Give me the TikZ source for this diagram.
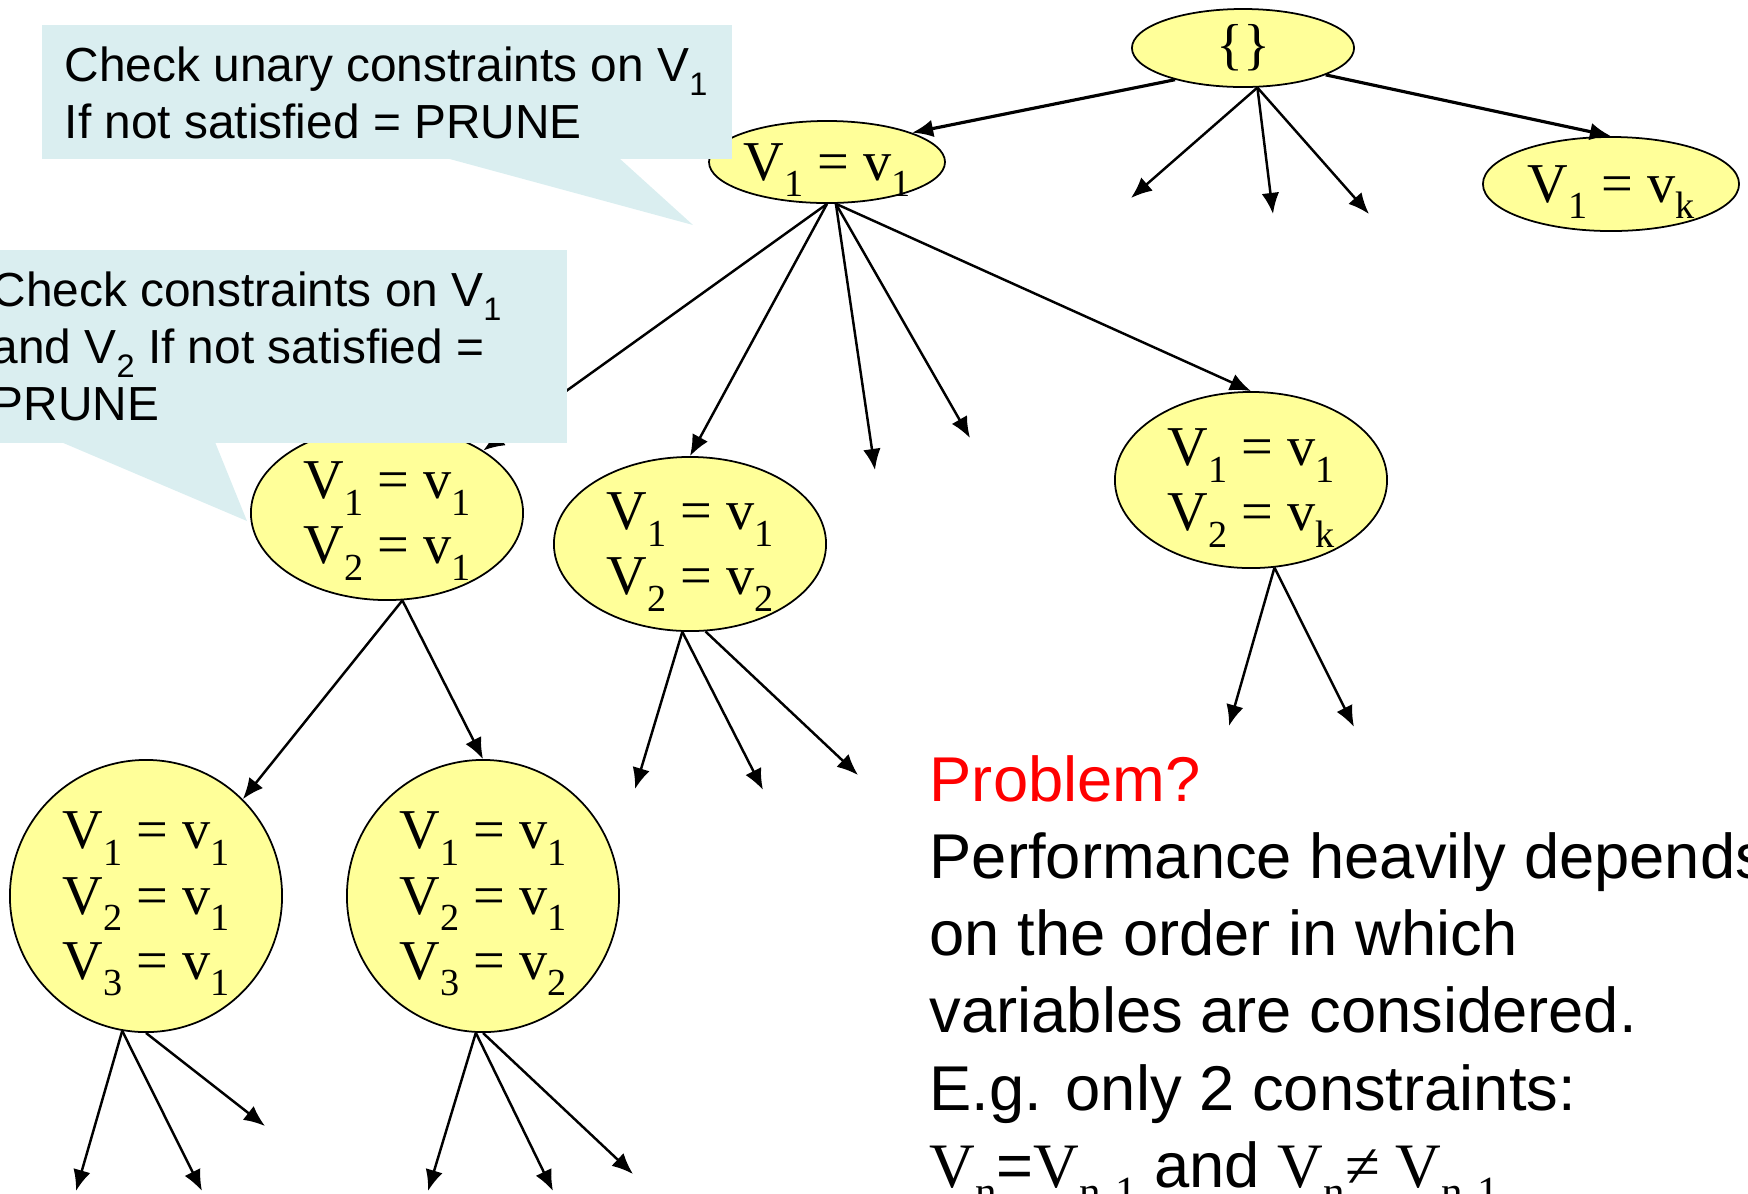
\documentclass[tikz,border=0pt]{standalone}
\usepackage{fontspec}
\setmainfont{Liberation Serif}
\setsansfont{Liberation Sans}
\usetikzlibrary{shapes.geometric,arrows.meta}
\definecolor{nodeyellow}{RGB}{255,255,153}
\definecolor{calloutblue}{RGB}{218,238,240}
\newcommand\low[1]{\raisebox{-0.3em}[0pt][0pt]{\scalebox{0.68}{#1}}}
\newcommand\asg[2]{V\low{#1} = v\low{#2}}

\begin{document}
\begin{tikzpicture}[x=0.01cm, y=-0.01cm, >={Latex[length=6pt,width=5pt]},
  state/.style={ellipse, draw, line width=0.5pt, fill=nodeyellow, inner sep=0pt,
    align=center, font=\fontsize{16}{18.5}\selectfont},
  edge/.style={->, line width=0.7pt},
  topedge/.style={->, line width=0.9pt},
  note/.style={anchor=base west, align=left, inner sep=0pt,
    font=\sffamily\fontsize{13.6}{16.2}\selectfont}]
  \useasboundingbox (0,0) rectangle (1748,1193);
  % search tree
  \node[state, minimum width=2.22cm, minimum height=0.78cm] (root) at (1243,48) {\{\}};
  \node[state, minimum width=2.26cm, minimum height=0.82cm] (v1) at (827,162) {\asg{1}{1}};
  \node[state, minimum width=2.56cm, minimum height=0.94cm] (vk) at (1611,184) {\asg{1}{k}};
  \node[state, minimum width=2.72cm, minimum height=1.74cm] (v11) at (387,513) {\asg{1}{1}\\\asg{2}{1}};
  \node[state, minimum width=2.72cm, minimum height=1.74cm] (v12) at (690,544) {\asg{1}{1}\\\asg{2}{2}};
  \node[state, minimum width=2.72cm, minimum height=1.76cm] (v1k) at (1251,480) {\asg{1}{1}\\\asg{2}{k}};
  \node[state, minimum width=2.72cm, minimum height=2.72cm] (v111) at (146,896) {\asg{1}{1}\\\asg{2}{1}\\\asg{3}{1}};
  \node[state, minimum width=2.72cm, minimum height=2.72cm] (v112) at (483,896) {\asg{1}{1}\\\asg{2}{1}\\\asg{3}{2}};
  % open ends
  \coordinate (r1) at (1131,198);
  \coordinate (r2) at (1273,214);
  \coordinate (r3) at (1369,214);
  \coordinate (a1) at (875,470);
  \coordinate (a2) at (970,438);
  \coordinate (b1) at (635,789);
  \coordinate (b2) at (763,790);
  \coordinate (b3) at (858,775);
  \coordinate (c1) at (1229,726);
  \coordinate (c2) at (1354,727);
  \coordinate (d1) at (76,1191);
  \coordinate (d2) at (202,1191);
  \coordinate (d3) at (265,1126);
  \coordinate (e1) at (428,1191);
  \coordinate (e2) at (553,1191);
  \coordinate (e3) at (633,1174);
  % branches
  \draw[topedge] (root.205) -- (v1.19);
  \draw[topedge] (root.342) -- (vk.north);
  \draw[edge] (root.290) -- (r1);
  \draw[edge] (root.290) -- (r2);
  \draw[edge] (root.290) -- (r3);
  \draw[edge] (v1.270) -- (v11.33);
  \draw[edge] (v1.270) -- (v12.north);
  \draw[edge] (v1.282) -- (a1);
  \draw[edge] (v1.282) -- (a2);
  \draw[edge] (v1.282) -- (v1k.north);
  \draw[edge] (v11.280) -- (v111.45);
  \draw[edge] (v11.280) -- (v112.north);
  \draw[edge] (v12.265) -- (b1);
  \draw[edge] (v12.265) -- (b2);
  \draw[edge] (v12.280) -- (b3);
  \draw[edge] (v1k.285) -- (c1);
  \draw[edge] (v1k.285) -- (c2);
  \draw[edge] (v111.260) -- (d1);
  \draw[edge] (v111.260) -- (d2);
  \draw[edge] (v111.south) -- (d3);
  \draw[edge] (v112.267) -- (e1);
  \draw[edge] (v112.267) -- (e2);
  \draw[edge] (v112.south) -- (e3);
  % callouts
  \fill[calloutblue] (42,25) rectangle (732,159);
  \fill[calloutblue] (446,158) -- (619,158) -- (693,225) -- cycle;
  \node[note] (tip1) at (64,138) {Check unary constraints on V\low{1}\\If not satisfied = PRUNE};
  \fill[calloutblue] (0,250) rectangle (567,443);
  \fill[calloutblue] (61,442) -- (215,442) -- (247,521) -- cycle;
  \node[note] (tip2) at (-9,420) {Check constraints on V\low{1}\\and V\low{2} If not satisfied =\\PRUNE};
  % remark
  \node[note, font=\sffamily\fontsize{18}{21.9}\selectfont] (remark) at (929,1187)
    {\textcolor{red}{Problem?}\\Performance heavily depends\\on the order in which\\variables are considered.\\E.g. only 2 constraints:\\{\rmfamily V\low{n}}={\rmfamily V\low{n-1}} and {\rmfamily V\low{n}≠ V\low{n-1}}};
\end{tikzpicture}
\end{document}
